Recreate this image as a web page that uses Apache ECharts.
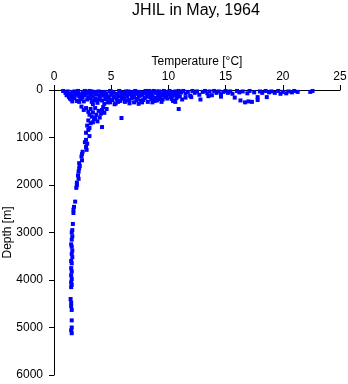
<!DOCTYPE html>
<html>
<head>
<meta charset="utf-8">
<script src="https://cdn.jsdelivr.net/npm/echarts@6/dist/echarts.min.js"></script>
<style>
	html, body { margin: 0; padding: 0; background: #fff; }
	#grafico { width: 348px; height: 384px; }
</style>
</head>
<body>
<div id="grafico"></div>
<script>
// pares [temperatura °C, profundidade m]
const superficie = [
	[0.8,20],[1.0,60],[1.1,110],[1.2,30],[1.3,150],[1.4,80],[1.5,200],[1.6,40],[1.7,120],[1.8,170],
	[1.9,70],[2.0,230],[2.1,20],[2.2,130],[2.3,90],[2.4,180],[2.5,40],[2.6,240],[2.7,110],[2.8,60],
	[2.9,200],[3.0,150],[3.1,20],[3.2,90],[3.3,250],[3.4,130],[3.5,50],[3.6,190],[3.7,100],[3.8,270],
	[3.9,30],[4.0,160],[4.1,80],[4.2,220],[4.3,120],[4.4,40],[4.5,190],[4.6,70],[4.7,260],[4.8,140],
	[4.9,20],[5.0,100],[5.1,210],[5.2,50],[5.3,160],[5.4,280],[5.5,80],[5.6,130],[5.7,20],[5.8,230],
	[5.9,110],[6.0,60],[6.1,180],[6.2,250],[6.3,30],[6.4,140],[6.5,90],[6.6,210],[6.7,50],[6.8,170],
	[6.9,120],[7.0,260],[7.1,20],[7.2,80],[7.3,190],[7.4,140],[7.5,40],[7.6,230],[7.7,100],[7.8,60],
	[7.9,170],[8.0,20],[8.1,130],[8.2,250],[8.3,80],[8.4,40],[8.5,190],[8.6,110],[8.7,20],[8.8,160],
	[8.9,60],[9.0,220],[9.1,100],[9.2,30],[9.3,140],[9.4,70],[9.5,200],[9.6,20],[9.7,120],[9.8,50],
	[9.9,180],[10.0,90],[10.1,20],[10.2,150],[10.3,60],[10.4,230],[10.5,110],[10.6,30],[10.7,170],[10.8,80],
	[10.9,20],[11.0,130],[11.1,50],[11.2,200],
	[1.2,90],[1.5,130],[1.8,30],[2.0,100],[2.3,190],[2.5,150],[2.7,20],[3.0,60],[3.2,170],[3.5,220],
	[3.7,40],[4.0,120],[4.2,60],[4.5,100],[4.8,210],[5.0,30],[5.2,130],[5.5,190],[5.8,40],[6.0,150],
	[6.3,220],[6.5,30],[6.8,100],[7.0,150],[7.3,40],[7.5,120],[7.8,210],[8.0,160],[8.3,20],[8.5,70],
	[8.8,230],[9.0,30],[9.3,190],[9.5,110],[9.8,150],[10.0,40],[10.3,190],[10.5,50],[10.8,140],
	[3.4,300],[4.4,290],[5.3,300],[6.6,280],[7.4,290],[8.6,260],[9.4,250],[2.2,250],[1.6,240],
	[1.4,180],[2.1,60],[2.6,80],[3.3,30],[3.9,200],[4.6,150],[5.6,250],[6.2,100],[6.9,40],[7.7,260],
	[8.1,60],[8.9,200],[9.6,80],[10.2,110],[10.6,250],[4.9,260],[5.9,180],[7.2,220],[8.4,150],[9.1,160]
];

const aguaQuente = [
	[11.3,20],[11.5,80],[11.7,40],[11.9,120],[12.1,20],[12.3,60],[12.5,30],[12.7,100],[12.8,200],[13.0,40],
	[13.2,20],[13.4,70],[13.6,30],[13.8,110],[14.0,20],[14.2,60],[14.4,30],[14.6,90],[14.8,40],[15.0,20],
	[15.2,60],[15.4,30],[15.6,80],[15.8,160],[16.0,20],[16.2,50],[16.3,220],[16.5,30],[16.7,260],[16.9,70],
	[17.0,240],[17.1,20],[17.3,250],[17.5,50],[17.8,150],[17.8,210],[18.0,30],[18.2,60],[18.5,20],[18.6,150],
	[18.8,50],[19.0,30],[19.3,60],[19.6,20],[19.8,80],[20.0,40],[20.3,70],[20.5,30],[20.8,50],[21.0,20],
	[21.3,40],[22.4,40],[22.6,20],[11.5,160],[12.0,150],[13.5,130],[14.6,140],[10.9,400]
];

const termoclina = [
	[2.4,350],[2.6,420],[2.8,380],[3.0,460],[3.1,520],[3.2,400],[3.3,560],[3.4,470],[3.5,610],[3.6,380],
	[3.7,520],[3.8,660],[3.9,440],[4.0,580],[4.1,500],[4.2,420],[4.3,360],[4.4,480],[4.6,400],[3.0,640],
	[3.2,700],[3.4,680],[2.9,750],[3.6,590],[4.2,780],[3.1,800],[3.0,840],[2.8,900],[3.1,970],[5.9,590]
];

const fundo = [
	[2.8,1050],[2.7,1100],[2.9,1130],[2.8,1200],[2.85,1260],[2.5,1300],[2.45,1350],[2.4,1400],[2.45,1480],[2.2,1540],
	[2.25,1600],[2.2,1650],[2.15,1720],[2.1,1800],[2.15,1870],[2.0,1950],[2.0,2000],[1.95,2060],[1.85,2350],[1.75,2460],
	[1.7,2520],[1.7,2590],[1.65,2820],[1.6,2950],[1.55,3000],[1.6,3080],[1.55,3150],[1.5,3250],[1.55,3300],[1.6,3380],
	[1.55,3450],[1.6,3520],[1.5,3600],[1.55,3650],[1.5,3750],[1.55,3820],[1.5,3900],[1.55,3980],[1.5,4050],[1.55,4100],
	[1.5,4150],[1.45,4400],[1.5,4480],[1.5,4550],[1.55,4630],[1.55,4850],[1.55,5000],[1.5,5060],[1.55,5120]
];

const titulo = 'JHIL in May, 1964';
const nomeX = 'Temperature [°C]';
const nomeY = 'Depth [m]';

const fonte = '"Liberation Sans", Arial, sans-serif';
const grafico = echarts.init(document.getElementById('grafico'));

grafico.setOption({
	animation: false,
	title: {
		text: titulo,
		left: 191,
		top: -2,
		textAlign: 'center',
		textStyle: { fontFamily: fonte, fontSize: 16, fontWeight: 'normal', color: '#000' }
	},
	grid: { left: 54, right: 8, top: 90, bottom: 9, outerBoundsMode: 'none', containLabel: false },
	xAxis: {
		type: 'value',
		position: 'top',
		min: 0, max: 25, interval: 5,
		name: nomeX,
		nameLocation: 'middle',
		nameGap: 22,
		nameMoveOverlap: false,
		nameTextStyle: { fontFamily: fonte, fontSize: 12, color: '#000' },
		axisLine: { show: true, onZero: false, lineStyle: { color: '#000', width: 1 } },
		axisTick: { show: true, length: 5, lineStyle: { color: '#000' } },
		axisLabel: { fontFamily: fonte, fontSize: 12, color: '#000', margin: 7 },
		splitLine: { show: false }
	},
	yAxis: {
		type: 'value',
		inverse: true,
		min: 0, max: 6000, interval: 1000,
		name: nomeY,
		nameLocation: 'middle',
		nameGap: 40,
		nameMoveOverlap: false,
		nameTextStyle: { fontFamily: fonte, fontSize: 12, color: '#000' },
		axisLine: { show: true, lineStyle: { color: '#000', width: 1 } },
		axisTick: { show: true, length: 5, lineStyle: { color: '#000' } },
		axisLabel: { fontFamily: fonte, fontSize: 12, color: '#000', margin: 11, formatter: v => String(v) },
		splitLine: { show: false }
	},
	series: [superficie, aguaQuente, termoclina, fundo].map(dados => ({
		type: 'scatter',
		data: dados,
		symbol: 'rect',
		symbolSize: 4,
		itemStyle: { color: '#0000ff', opacity: 1 }
	}))
});
</script>
</body>
</html>
